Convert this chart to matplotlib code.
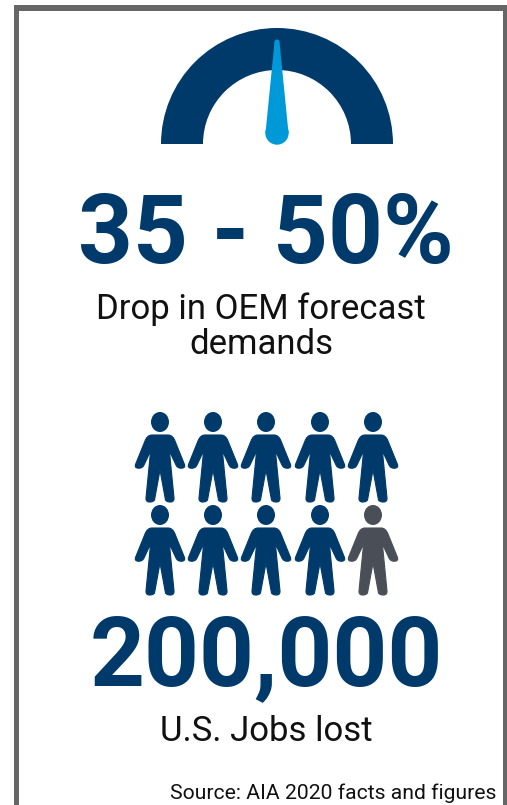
import numpy as np
import matplotlib
matplotlib.use("Agg")
import matplotlib.pyplot as plt
from matplotlib.patches import Wedge, Circle, Ellipse, PathPatch, Rectangle
from matplotlib.path import Path

plt.rcParams["font.family"] = ["Roboto", "DejaVu Sans"]

NAVY = "#003a6b"
BLUE = "#0099d8"
GREY = "#4a4f57"
FRAME = "#666666"

gauge_value = 50  # needle position, percent of the dial
headline = "35 - 50%"
headline_caption = ["Drop in OEM forecast", "demands"]
jobs_headline = "200,000"
jobs_caption = "U.S. Jobs lost"
source = "Source: AIA 2020 facts and figures"
people_total = 10
people_lost = 9


def person_path(cx, top):
    # outline of the left half, top of the torso down to the crotch
    M, L, C = Path.MOVETO, Path.LINETO, Path.CURVE4
    verts = [(0, 0), (-8, 0),
             (-11, 0), (-13.5, 2), (-15, 6),
             (-24.3, 29),
             (-25.5, 32), (-24, 33.2), (-21.5, 33.2),
             (-19.5, 33.2), (-17.5, 33), (-16, 30),
             (-9.4, 16),
             (-14, 63),
             (-14.2, 66), (-12.5, 67), (-10.5, 67),
             (-9, 67), (-7, 67), (-5.5, 65),
             (0, 35)]
    codes = [M, L,
             C, C, C,
             L,
             C, C, C,
             C, C, C,
             L,
             L,
             C, C, C,
             C, C, C,
             L]
    # mirror it for the right half, walking back up the same outline
    right = [(-x, y) for x, y in verts[-2::-1]]
    right_codes = codes[:0:-1]
    xy = np.array(verts + right, float) + [cx, top]
    return Path(xy, codes + right_codes)


fig = plt.figure(figsize=(5.07, 8.05), dpi=100)
ax = fig.add_axes([0, 0, 1, 1])
ax.set_xlim(0, 507)
ax.set_ylim(805, 0)
ax.axis("off")

# frame, open at the bottom
ax.add_patch(Rectangle((14, 5), 5, 800, color=FRAME, lw=0))
ax.add_patch(Rectangle((503, 5), 4, 800, color=FRAME, lw=0))
ax.add_patch(Rectangle((14, 5), 493, 6, color=FRAME, lw=0))

# gauge (y axis points down, so angles run from 180 to 360 over the top)
gx, gy = 277, 144
ax.add_patch(Wedge((gx, gy), 116, 180, 360, width=42, color=NAVY, lw=0))

a = np.radians(180 + gauge_value / 100 * 180)
ux, uy = np.cos(a), np.sin(a)
px, py = -uy, ux
base = np.array([gx, gy - 11])
tip = np.array([gx + ux * 102, gy + uy * 102])
needle = np.array([
    base + [px * 11.5, py * 11.5],
    tip + [px * 2.5, py * 2.5],
    tip - [px * 2.5, py * 2.5],
    base - [px * 11.5, py * 11.5],
])
ax.fill(needle[:, 0], needle[:, 1], color=BLUE, lw=0, zorder=3)
ax.add_patch(Circle(base, 11.7, color=BLUE, lw=0, zorder=3))
ax.add_patch(Circle(tip, 2.5, color=BLUE, lw=0, zorder=3))

ax.text(266, 263, headline, fontsize=69, fontweight="bold", color=NAVY,
        ha="center", va="baseline")
ax.text(261, 318.5, headline_caption[0], fontsize=25, color="#111111",
        ha="center", va="baseline")
ax.text(261, 353.5, headline_caption[1], fontsize=25, color="#111111",
        ha="center", va="baseline")

# people, two rows of five
col_x = [160, 213, 266, 320, 373]
row_y = [435, 528]
for i in range(people_total):
    r, c = divmod(i, 5)
    colour = NAVY if i < people_lost else GREY
    ax.add_patch(Ellipse((col_x[c], row_y[r] - 13), 18, 20, color=colour, lw=0))
    ax.add_patch(PathPatch(person_path(col_x[c], row_y[r]), facecolor=colour,
                           edgecolor=colour, lw=0.8))

ax.text(266, 685, jobs_headline, fontsize=69, fontweight="bold", color=NAVY,
        ha="center", va="baseline")
ax.text(266, 741, jobs_caption, fontsize=25, color="#111111",
        ha="center", va="baseline")
ax.text(496, 798.5, source, fontsize=15.2, color="#111111",
        ha="right", va="baseline")

fig.savefig("out.png", dpi=100)
